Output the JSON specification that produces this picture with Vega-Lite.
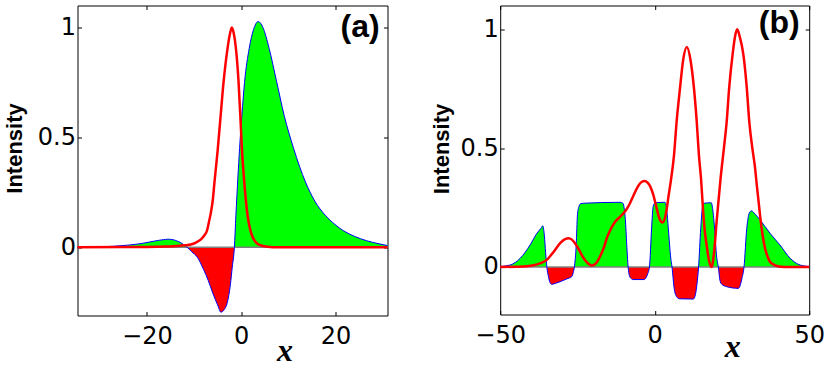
{
  "$schema": "https://vega.github.io/schema/vega-lite/v6.json",
  "autosize": {"type": "pad"},
  "padding": {"left": 2.5, "top": 4.5, "right": 0, "bottom": 0},
  "spacing": 112.7,
  "bounds": "flush",
  "config": {
    "view": {"stroke": "#000000", "strokeWidth": 1},
    "axis": {
      "grid": false, "domain": false, "tickColor": "#000000", "tickSize": -4, "tickWidth": 1,
      "labelFont": "DejaVu Sans", "labelFontSize": 24, "labelColor": "#000000",
      "labelFlush": false, "labelOverlap": false, "titleColor": "#000000"
    }
  },
  "datasets": {
    "aBlue": [
      {"x": -34.7, "y": 0.0}, {"x": -30, "y": 0.002}, {"x": -27, "y": 0.005}, {"x": -24, "y": 0.01},
      {"x": -21, "y": 0.018}, {"x": -18.5, "y": 0.028}, {"x": -16.5, "y": 0.035}, {"x": -15.5, "y": 0.037},
      {"x": -14.5, "y": 0.035}, {"x": -13.5, "y": 0.028}, {"x": -12.5, "y": 0.017}, {"x": -11.45, "y": 0.0},
      {"x": -10.5, "y": -0.02}, {"x": -9.3, "y": -0.045}, {"x": -8, "y": -0.1}, {"x": -7, "y": -0.15},
      {"x": -6, "y": -0.21}, {"x": -5, "y": -0.262}, {"x": -4.3, "y": -0.295}, {"x": -3.6, "y": -0.283},
      {"x": -3, "y": -0.255}, {"x": -2.3, "y": -0.17}, {"x": -1.9, "y": -0.09}, {"x": -1.45, "y": 0.0},
      {"x": -1.13, "y": 0.146}, {"x": -0.7, "y": 0.32}, {"x": -0.35, "y": 0.45}, {"x": 0.14, "y": 0.6},
      {"x": 0.7, "y": 0.75}, {"x": 1.7, "y": 0.906}, {"x": 2.6, "y": 0.99}, {"x": 3.6, "y": 1.027},
      {"x": 4.6, "y": 1.0}, {"x": 5.9, "y": 0.906}, {"x": 7.5, "y": 0.754}, {"x": 9.1, "y": 0.6},
      {"x": 11.1, "y": 0.45}, {"x": 13.6, "y": 0.298}, {"x": 15.6, "y": 0.21}, {"x": 17.8, "y": 0.146},
      {"x": 19.8, "y": 0.105}, {"x": 21.7, "y": 0.075}, {"x": 24, "y": 0.05}, {"x": 26.6, "y": 0.03},
      {"x": 29, "y": 0.017}, {"x": 31, "y": 0.008}
    ],
    "aRed": [
      {"x": -34.7, "y": 0.0}, {"x": -25, "y": 0.001}, {"x": -20, "y": 0.002}, {"x": -16, "y": 0.004},
      {"x": -13.6, "y": 0.006}, {"x": -12, "y": 0.009}, {"x": -10.7, "y": 0.013}, {"x": -9.6, "y": 0.022},
      {"x": -8.6, "y": 0.035}, {"x": -7.8, "y": 0.055}, {"x": -7.2, "y": 0.08}, {"x": -6.9, "y": 0.11},
      {"x": -6.5, "y": 0.15}, {"x": -6.0, "y": 0.22}, {"x": -5.7, "y": 0.29}, {"x": -5.0, "y": 0.44},
      {"x": -4.4, "y": 0.59}, {"x": -3.75, "y": 0.75}, {"x": -2.9, "y": 0.905}, {"x": -2.4, "y": 0.97},
      {"x": -2.0, "y": 1.0}, {"x": -1.6, "y": 0.975}, {"x": -1.13, "y": 0.906}, {"x": -0.57, "y": 0.754},
      {"x": -0.2, "y": 0.602}, {"x": 0.14, "y": 0.45}, {"x": 0.64, "y": 0.298}, {"x": 1.34, "y": 0.146},
      {"x": 1.8, "y": 0.09}, {"x": 2.26, "y": 0.055}, {"x": 3.0, "y": 0.025}, {"x": 4.0, "y": 0.01},
      {"x": 5.5, "y": 0.003}, {"x": 8, "y": 0.0}, {"x": 31, "y": 0.0}
    ],
    "bBlue": [
      {"x": -50, "y": 0.002}, {"x": -46.8, "y": 0.008}, {"x": -43.5, "y": 0.037}, {"x": -40.3, "y": 0.093},
      {"x": -38.1, "y": 0.142}, {"x": -36.8, "y": 0.163}, {"x": -36.2, "y": 0.173}, {"x": -35.7, "y": 0.13},
      {"x": -35.3, "y": 0.06}, {"x": -34.9, "y": 0.0}, {"x": -34.4, "y": -0.04}, {"x": -33.9, "y": -0.065},
      {"x": -33.3, "y": -0.073}, {"x": -32, "y": -0.068}, {"x": -30.6, "y": -0.062}, {"x": -28.4, "y": -0.05},
      {"x": -26.8, "y": -0.04}, {"x": -26.4, "y": -0.025}, {"x": -26.0, "y": 0.0}, {"x": -25.4, "y": 0.093},
      {"x": -25.0, "y": 0.219}, {"x": -24.5, "y": 0.255}, {"x": -24.0, "y": 0.266}, {"x": -23.1, "y": 0.268},
      {"x": -11.2, "y": 0.272}, {"x": -10.3, "y": 0.268}, {"x": -9.8, "y": 0.24}, {"x": -9.5, "y": 0.2},
      {"x": -9.05, "y": 0.093}, {"x": -8.6, "y": 0.0}, {"x": -8.1, "y": -0.04}, {"x": -7.5, "y": -0.05},
      {"x": -7.0, "y": -0.053}, {"x": -3.4, "y": -0.053}, {"x": -2.8, "y": -0.045}, {"x": -2.3, "y": -0.03},
      {"x": -1.7, "y": 0.0}, {"x": -1.0, "y": 0.163}, {"x": -0.5, "y": 0.255}, {"x": 0.2, "y": 0.27},
      {"x": 3.3, "y": 0.272}, {"x": 3.9, "y": 0.24}, {"x": 4.4, "y": 0.163}, {"x": 5.2, "y": 0.037},
      {"x": 5.6, "y": 0.0}, {"x": 6.3, "y": -0.09}, {"x": 7.1, "y": -0.125}, {"x": 8.0, "y": -0.134},
      {"x": 12.5, "y": -0.135}, {"x": 13.2, "y": -0.115}, {"x": 13.7, "y": -0.07}, {"x": 14.2, "y": 0.0},
      {"x": 14.9, "y": 0.163}, {"x": 15.5, "y": 0.255}, {"x": 16.0, "y": 0.268}, {"x": 18.3, "y": 0.27},
      {"x": 18.8, "y": 0.24}, {"x": 19.2, "y": 0.19}, {"x": 20.1, "y": 0.037}, {"x": 20.6, "y": 0.0},
      {"x": 21.1, "y": -0.055}, {"x": 21.7, "y": -0.073}, {"x": 23.3, "y": -0.083}, {"x": 27.1, "y": -0.09},
      {"x": 27.6, "y": -0.08}, {"x": 28.2, "y": -0.05}, {"x": 28.9, "y": 0.0}, {"x": 29.8, "y": 0.163},
      {"x": 30.6, "y": 0.226}, {"x": 31.3, "y": 0.236}, {"x": 32.5, "y": 0.222}, {"x": 34.1, "y": 0.198},
      {"x": 37.3, "y": 0.142}, {"x": 40.5, "y": 0.093}, {"x": 43.8, "y": 0.037}, {"x": 46.5, "y": 0.011},
      {"x": 49.2, "y": 0.003}, {"x": 50, "y": 0.002}
    ],
    "bRed": [
      {"x": -50, "y": 0.0}, {"x": -45, "y": 0.001}, {"x": -41.4, "y": 0.003}, {"x": -39.2, "y": 0.007},
      {"x": -37.1, "y": 0.015}, {"x": -34.9, "y": 0.03}, {"x": -32.8, "y": 0.062}, {"x": -30.6, "y": 0.1},
      {"x": -29, "y": 0.117}, {"x": -27.9, "y": 0.121}, {"x": -26.8, "y": 0.115}, {"x": -25.8, "y": 0.1},
      {"x": -24.6, "y": 0.075}, {"x": -23.6, "y": 0.05}, {"x": -22, "y": 0.02}, {"x": -20.4, "y": 0.006},
      {"x": -19, "y": 0.015}, {"x": -17.7, "y": 0.044}, {"x": -16.5, "y": 0.08}, {"x": -15.5, "y": 0.121},
      {"x": -14, "y": 0.165}, {"x": -12.8, "y": 0.19}, {"x": -11.3, "y": 0.21}, {"x": -10.1, "y": 0.226},
      {"x": -9, "y": 0.245}, {"x": -8, "y": 0.268}, {"x": -6.9, "y": 0.3}, {"x": -5.8, "y": 0.33},
      {"x": -4.5, "y": 0.355}, {"x": -3.3, "y": 0.362}, {"x": -2.3, "y": 0.355}, {"x": -1.5, "y": 0.34},
      {"x": -0.5, "y": 0.305}, {"x": 0.5, "y": 0.255}, {"x": 1.5, "y": 0.205}, {"x": 2.5, "y": 0.187},
      {"x": 3.3, "y": 0.205}, {"x": 3.9, "y": 0.245}, {"x": 4.5, "y": 0.3}, {"x": 5.2, "y": 0.36},
      {"x": 6.26, "y": 0.472}, {"x": 7.1, "y": 0.612}, {"x": 8.2, "y": 0.753}, {"x": 9.2, "y": 0.87},
      {"x": 10.4, "y": 0.925}, {"x": 11.6, "y": 0.87}, {"x": 12.7, "y": 0.753}, {"x": 13.6, "y": 0.612},
      {"x": 14.3, "y": 0.472}, {"x": 15.0, "y": 0.37}, {"x": 15.7, "y": 0.23}, {"x": 16.3, "y": 0.14},
      {"x": 16.8, "y": 0.093}, {"x": 17.6, "y": 0.025}, {"x": 18.4, "y": 0.0}, {"x": 19.2, "y": 0.06},
      {"x": 20.1, "y": 0.2}, {"x": 21.3, "y": 0.37}, {"x": 22.4, "y": 0.5}, {"x": 23.3, "y": 0.612},
      {"x": 24.1, "y": 0.753}, {"x": 25.2, "y": 0.893}, {"x": 26.0, "y": 0.97}, {"x": 26.7, "y": 1.0},
      {"x": 27.5, "y": 0.97}, {"x": 28.7, "y": 0.893}, {"x": 29.8, "y": 0.753}, {"x": 30.6, "y": 0.612},
      {"x": 31.6, "y": 0.5}, {"x": 32.45, "y": 0.42}, {"x": 33.0, "y": 0.35}, {"x": 33.5, "y": 0.29},
      {"x": 34.6, "y": 0.163}, {"x": 35.7, "y": 0.079}, {"x": 36.5, "y": 0.045}, {"x": 37.3, "y": 0.022},
      {"x": 38.5, "y": 0.01}, {"x": 39.5, "y": 0.004}, {"x": 42, "y": 0.0}, {"x": 50, "y": 0.0}
    ],
    "aLabel": [{"x": 25.2, "y": 0.958, "t": "(a)"}],
    "bLabel": [{"x": 40.3, "y": 0.983, "t": "(b)"}],
    "zero": [{"y": 0}]
  },
  "hconcat": [
    {
      "width": 310,
      "height": 310,
      "resolve": {"axis": {"x": "independent", "y": "independent"}},
      "layer": [
        {
          "data": {"name": "aBlue"},
          "mark": {
            "type": "area", "interpolate": "monotone",
            "fill": {"gradient": "linear", "x1": 0, "y1": 0, "x2": 0, "y2": 1,
              "stops": [{"offset": 0, "color": "#00ff00"}, {"offset": 0.7769, "color": "#00ff00"}, {"offset": 0.7769, "color": "#ff0000"}, {"offset": 1, "color": "#ff0000"}]},
            "fillOpacity": 1
          },
          "encoding": {
            "x": {"field": "x", "type": "quantitative", "scale": {"domain": [-34.7, 31], "nice": false, "zero": false},
              "axis": {"orient": "bottom", "values": [-20, 0, 20], "labelPadding": 13,
                "title": "x", "titleFont": "Liberation Serif", "titleFontSize": 32, "titleFontStyle": "italic", "titleFontWeight": "bold",
                "titleX": 207, "titleY": 44.7, "titleAlign": "center", "titleBaseline": "alphabetic",
                "encode": {"labels": {"update": {"dx": {"signal": "datum.value < 0 ? -7 : 0"}}}}}},
            "y": {"field": "y", "type": "quantitative", "scale": {"domain": [-0.31, 1.1], "nice": false, "zero": false},
              "axis": {"orient": "left", "values": [0, 0.5, 1], "format": "~g", "labelPadding": 6,
                "title": "Intensity", "titleFont": "Liberation Sans", "titleFontSize": 22, "titleFontWeight": "bold",
                "titleAngle": -90, "titleX": -62.6, "titleY": 142.5, "titleAlign": "center", "titleBaseline": "middle"}},
            "y2": {"datum": 0}
          }
        },
        {
          "data": {"name": "zero"},
          "mark": {"type": "rule", "color": "#808080", "strokeWidth": 1.5},
          "encoding": {"y": {"field": "y", "type": "quantitative", "axis": null}}
        },
        {
          "data": {"name": "aBlue"},
          "mark": {"type": "line", "interpolate": "monotone", "color": "#0000ff", "strokeWidth": 1},
          "encoding": {
            "x": {"field": "x", "type": "quantitative", "axis": null},
            "y": {"field": "y", "type": "quantitative", "axis": null}
          }
        },
        {
          "data": {"name": "aRed"},
          "mark": {"type": "line", "interpolate": "monotone", "color": "#ff0000", "strokeWidth": 2.5},
          "encoding": {
            "x": {"field": "x", "type": "quantitative", "axis": {"orient": "top", "values": [-20, 0, 20], "labels": false, "title": null}},
            "y": {"field": "y", "type": "quantitative", "axis": {"orient": "right", "values": [0, 0.5, 1], "labels": false, "title": null}}
          }
        },
        {
          "data": {"name": "aLabel"},
          "mark": {"type": "text", "font": "Liberation Sans", "fontSize": 32, "fontWeight": "bold", "align": "center", "baseline": "alphabetic", "color": "#000000"},
          "encoding": {
            "x": {"field": "x", "type": "quantitative", "axis": null},
            "y": {"field": "y", "type": "quantitative", "axis": null},
            "text": {"field": "t"}
          }
        }
      ]
    },
    {
      "width": 309,
      "height": 309,
      "resolve": {"axis": {"x": "independent", "y": "independent"}},
      "layer": [
        {
          "data": {"name": "bBlue"},
          "mark": {
            "type": "area", "interpolate": "monotone",
            "fill": {"gradient": "linear", "x1": 0, "y1": 0, "x2": 0, "y2": 1,
              "stops": [{"offset": 0, "color": "#00ff00"}, {"offset": 0.6683, "color": "#00ff00"}, {"offset": 0.6683, "color": "#ff0000"}, {"offset": 1, "color": "#ff0000"}]},
            "fillOpacity": 1
          },
          "encoding": {
            "x": {"field": "x", "type": "quantitative", "scale": {"domain": [-50, 50], "nice": false, "zero": false},
              "axis": {"orient": "bottom", "values": [-50, 0, 50], "labelPadding": 13,
                "title": "x", "titleFont": "Liberation Serif", "titleFontSize": 32, "titleFontStyle": "italic", "titleFontWeight": "bold",
                "titleX": 232, "titleY": 41.5, "titleAlign": "center", "titleBaseline": "alphabetic",
                "encode": {"labels": {"update": {"dx": {"signal": "datum.value < 0 ? -7 : 0"}}}}}},
            "y": {"field": "y", "type": "quantitative", "scale": {"domain": [-0.2, 1.1], "nice": false, "zero": false},
              "axis": {"orient": "left", "values": [0, 0.5, 1], "format": "~g", "labelPadding": 6,
                "title": "Intensity", "titleFont": "Liberation Sans", "titleFontSize": 22, "titleFontWeight": "bold",
                "titleAngle": -90, "titleX": -59, "titleY": 143, "titleAlign": "center", "titleBaseline": "middle"}},
            "y2": {"datum": 0}
          }
        },
        {
          "data": {"name": "zero"},
          "mark": {"type": "rule", "color": "#808080", "strokeWidth": 1.5},
          "encoding": {"y": {"field": "y", "type": "quantitative", "axis": null}}
        },
        {
          "data": {"name": "bBlue"},
          "mark": {"type": "line", "interpolate": "monotone", "color": "#0000ff", "strokeWidth": 1},
          "encoding": {
            "x": {"field": "x", "type": "quantitative", "axis": null},
            "y": {"field": "y", "type": "quantitative", "axis": null}
          }
        },
        {
          "data": {"name": "bRed"},
          "mark": {"type": "line", "interpolate": "monotone", "color": "#ff0000", "strokeWidth": 2.5},
          "encoding": {
            "x": {"field": "x", "type": "quantitative", "axis": {"orient": "top", "values": [-50, 0, 50], "labels": false, "title": null}},
            "y": {"field": "y", "type": "quantitative", "axis": {"orient": "right", "values": [0, 0.5, 1], "labels": false, "title": null}}
          }
        },
        {
          "data": {"name": "bLabel"},
          "mark": {"type": "text", "font": "Liberation Sans", "fontSize": 32, "fontWeight": "bold", "align": "center", "baseline": "alphabetic", "color": "#000000"},
          "encoding": {
            "x": {"field": "x", "type": "quantitative", "axis": null},
            "y": {"field": "y", "type": "quantitative", "axis": null},
            "text": {"field": "t"}
          }
        }
      ]
    }
  ]
}
